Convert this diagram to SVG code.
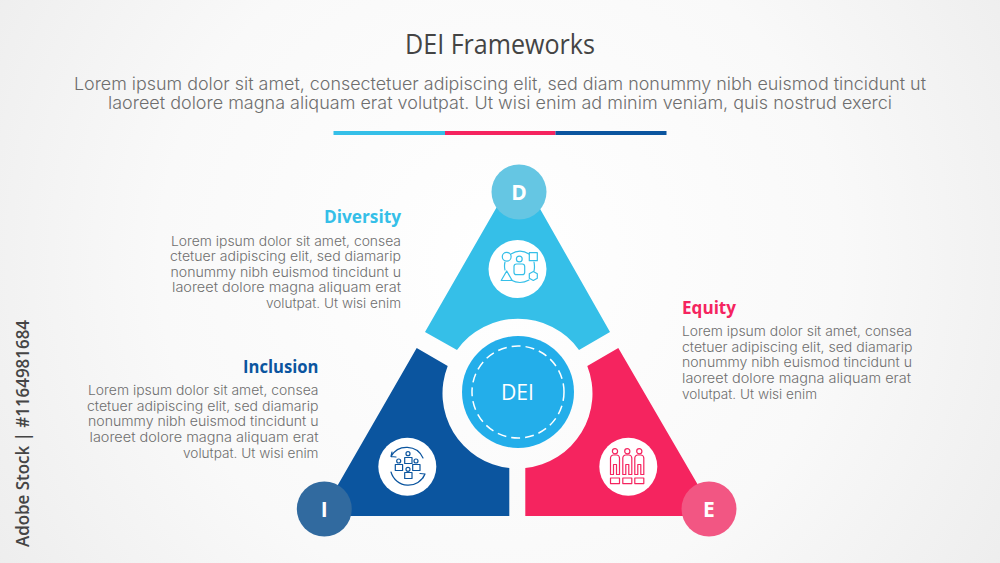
<svg xmlns="http://www.w3.org/2000/svg" width="1000" height="563" viewBox="0 0 1000 563">
<style>
.title{font-family:"Open Sans","Noto Sans",sans-serif;font-size:27px;fill:#444444}
.lead{font-family:Inter,"Liberation Sans",sans-serif;font-size:17.5px;font-weight:300;fill:#6e6e6e}
.body{font-family:Inter,"Liberation Sans",sans-serif;font-size:13px;font-weight:300;fill:#6e6e6e}
.head{font-family:"Open Sans","Noto Sans",sans-serif;font-size:18.5px;font-weight:700}
.letter{font-family:"Open Sans","Noto Sans",sans-serif;font-size:21px;font-weight:700;fill:#ffffff;text-anchor:middle}
.core{font-family:"Open Sans","Noto Sans",sans-serif;font-size:22px;font-weight:400;fill:#ffffff;text-anchor:middle}
.stamp{font-family:"Open Sans","Noto Sans",sans-serif;font-size:17.5px;font-weight:600;fill:#454545}
.ico{fill:none;stroke-width:1.2;stroke-linejoin:round;stroke-linecap:round}
</style>
<defs>
<radialGradient id="bg" gradientUnits="userSpaceOnUse" cx="500" cy="260" r="620">
<stop offset="0" stop-color="#ffffff"/>
<stop offset="0.55" stop-color="#f9f9f9"/>
<stop offset="1" stop-color="#ececec"/>
</radialGradient>
<g id="fig">
<circle cx="0" cy="451.3" r="2.6"/>
<path d="M-4.5,458 a3,3 0 0 1 3,-3 h3 a3,3 0 0 1 3,3 v16.5 h-3 v-10 h-3 v10 h-3 z"/>
<rect x="-4.5" y="478" width="9" height="5.6"/>
</g>
</defs>
<rect width="1000" height="563" fill="url(#bg)"/>
<g id="header">
<text class="title" x="405" y="54" textLength="190" lengthAdjust="spacingAndGlyphs">DEI Frameworks</text>
<text class="lead" x="74" y="89.500" textLength="852" lengthAdjust="spacingAndGlyphs">Lorem ipsum dolor sit amet, consectetuer adipiscing elit, sed diam nonummy nibh euismod tincidunt ut</text>
<text class="lead" x="108" y="109" textLength="784" lengthAdjust="spacingAndGlyphs">laoreet dolore magna aliquam erat volutpat. Ut wisi enim ad minim veniam, quis nostrud exerci</text>
<rect x="333.500" y="131" width="111.500" height="4" fill="#35bfe8"/>
<rect x="445" y="131" width="110.500" height="4" fill="#f5245f"/>
<rect x="555.500" y="131" width="111" height="4" fill="#0b559f"/>
</g>
<g id="node-diversity">
<path d="M425,332 L518,170 L610,332 L579,350 A75,75 0 0 0 457,350 Z" fill="#35bfe8"/>
<circle cx="519" cy="192" r="27.500" fill="#65c6e3"/>
<text class="letter" x="519" y="200">D</text>
<circle cx="517.500" cy="269" r="29" fill="#ffffff"/>
<g class="ico" stroke="#35bfe8">
<circle cx="506.700" cy="256.700" r="4.400"/>
<rect x="529.300" y="252.700" width="8" height="8"/>
<path d="M533.300,271.500 l4,2.250 v4.500 l-4,2.250 l-4,-2.250 v-4.500 z"/>
<path d="M506.700,271 l5.500,9.500 h-11 z"/>
<circle cx="519.300" cy="259" r="2.900"/>
<rect x="514" y="264" width="10.700" height="10.700" rx="2.500"/>
<path d="M511,254 A17,17 0 0 1 529,254 M534,262 Q535,267 534,271 M505,262 Q504,266 505,270 M511,280 Q520,285 529,280"/>
</g>
<text class="head" fill="#35bfe8" x="324" y="223" textLength="77" lengthAdjust="spacingAndGlyphs">Diversity</text>
<text class="body" x="171" y="245.500" textLength="230" lengthAdjust="spacingAndGlyphs">Lorem ipsum dolor sit amet, consea</text>
<text class="body" x="170" y="261.200" textLength="231" lengthAdjust="spacingAndGlyphs">ctetuer adipiscing elit, sed diamarip</text>
<text class="body" x="170.500" y="276.700" textLength="230.500" lengthAdjust="spacingAndGlyphs">nonummy nibh euismod tincidunt u</text>
<text class="body" x="172" y="292.200" textLength="229" lengthAdjust="spacingAndGlyphs">laoreet dolore magna aliquam erat</text>
<text class="body" x="266" y="307.800" textLength="135" lengthAdjust="spacingAndGlyphs">volutpat. Ut wisi enim</text>
</g>
<g id="node-inclusion">
<path d="M416.700,348 L447.700,366 A75,75 0 0 0 509.300,468 V516 H320 Z" fill="#0b559f"/>
<circle cx="324.300" cy="509" r="27.500" fill="#316a9f"/>
<text class="letter" x="324.300" y="516.500">I</text>
<circle cx="407.300" cy="466.700" r="29" fill="#ffffff"/>
<g class="ico" stroke="#0b559f">
<circle cx="408" cy="453.700" r="2"/>
<rect x="404.700" y="457.500" width="7.300" height="6"/>
<circle cx="398.700" cy="461" r="2"/>
<rect x="395.300" y="464.500" width="7.300" height="6"/>
<circle cx="416" cy="461" r="2"/>
<rect x="412.700" y="464.500" width="7.300" height="6"/>
<circle cx="408" cy="469.300" r="2"/>
<rect x="404.700" y="472.500" width="7.300" height="6"/>
<path d="M391,456.500 A18,18 0 0 1 423,458 M391,456.500 l1,-4.500 M391,456.500 l5,0.500"/>
<path d="M391,472 A18,18 0 0 0 425,474 M425,474 l-5,-0.500 M425,474 l-2,4"/>
</g>
<text class="head" fill="#0b559f" x="243" y="373" textLength="75.500" lengthAdjust="spacingAndGlyphs">Inclusion</text>
<text class="body" x="88" y="395.200" textLength="230.500" lengthAdjust="spacingAndGlyphs">Lorem ipsum dolor sit amet, consea</text>
<text class="body" x="87" y="410.700" textLength="231.500" lengthAdjust="spacingAndGlyphs">ctetuer adipiscing elit, sed diamarip</text>
<text class="body" x="88" y="426.300" textLength="230.500" lengthAdjust="spacingAndGlyphs">nonummy nibh euismod tincidunt u</text>
<text class="body" x="89.500" y="441.800" textLength="229" lengthAdjust="spacingAndGlyphs">laoreet dolore magna aliquam erat</text>
<text class="body" x="183" y="457.500" textLength="135.500" lengthAdjust="spacingAndGlyphs">volutpat. Ut wisi enim</text>
</g>
<g id="node-equity">
<path d="M618.300,348 L587.300,366 A75,75 0 0 1 525.300,468 V516 H716 Z" fill="#f5245f"/>
<circle cx="709" cy="509" r="27.500" fill="#f25683"/>
<text class="letter" x="709" y="516.500">E</text>
<circle cx="628.300" cy="466.700" r="29" fill="#ffffff"/>
<g class="ico" stroke="#f5245f">
<use href="#fig" x="615"/>
<use href="#fig" x="627.300"/>
<use href="#fig" x="639.300"/>
</g>
<text class="head" fill="#f5245f" x="682" y="314" textLength="54" lengthAdjust="spacingAndGlyphs">Equity</text>
<text class="body" x="682" y="335.500" textLength="230" lengthAdjust="spacingAndGlyphs">Lorem ipsum dolor sit amet, consea</text>
<text class="body" x="682" y="351.500" textLength="230.500" lengthAdjust="spacingAndGlyphs">ctetuer adipiscing elit, sed diamarip</text>
<text class="body" x="682" y="367.200" textLength="230" lengthAdjust="spacingAndGlyphs">nonummy nibh euismod tincidunt u</text>
<text class="body" x="682" y="382.800" textLength="229" lengthAdjust="spacingAndGlyphs">laoreet dolore magna aliquam erat</text>
<text class="body" x="682" y="398.500" textLength="135" lengthAdjust="spacingAndGlyphs">volutpat. Ut wisi enim</text>
</g>
<g id="node-core">
<circle cx="518" cy="392" r="56" fill="#23aeea"/>
<circle cx="518" cy="392" r="46" fill="none" stroke="#ffffff" stroke-width="1.500" stroke-dasharray="9 5"/>
<text class="core" x="517.500" y="400" textLength="33" lengthAdjust="spacingAndGlyphs">DEI</text>
</g>
<text class="stamp" transform="translate(29,547) rotate(-90)" textLength="227" lengthAdjust="spacingAndGlyphs">Adobe Stock | #1164981684</text>
</svg>
